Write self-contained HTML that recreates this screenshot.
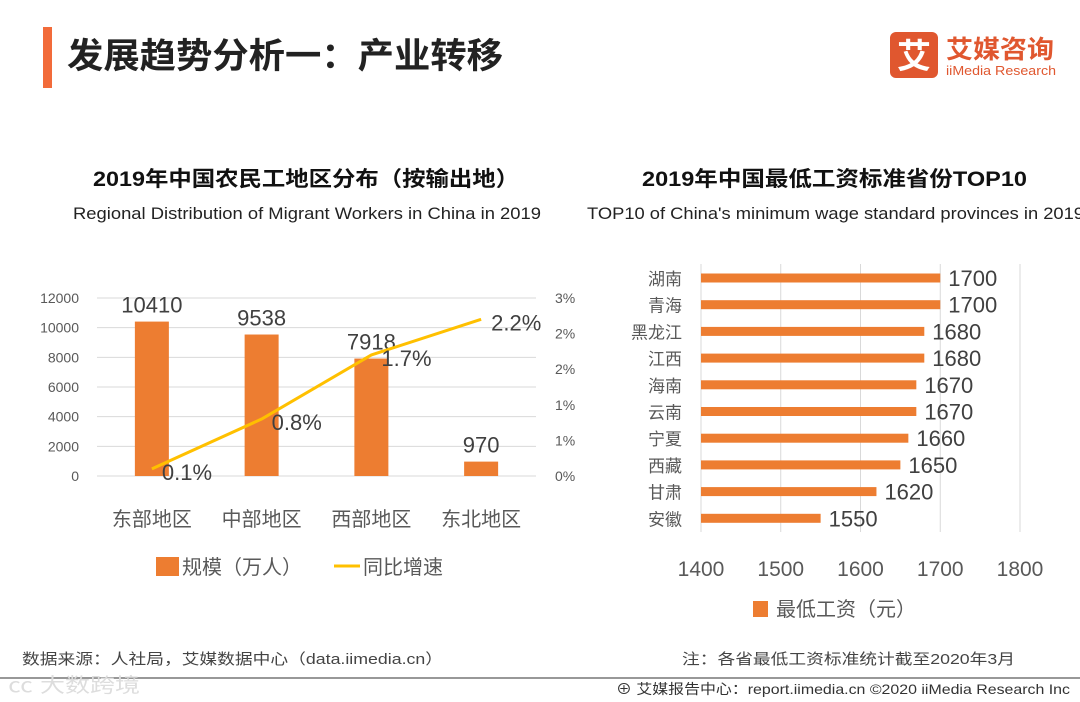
<!DOCTYPE html>
<html><head><meta charset="utf-8"><style>
html,body{margin:0;padding:0;background:#fff;}
svg{display:block;font-family:"Liberation Sans","Noto Sans CJK SC",sans-serif;}
</style></head><body>
<svg id="s" width="1080" height="702" viewBox="0 0 1080 702" xmlns="http://www.w3.org/2000/svg">
<rect x="43" y="27" width="9" height="61" fill="#f26b3a"/>
<text x="67" y="68" font-size="35" font-weight="bold" fill="#222" textLength="436" lengthAdjust="spacingAndGlyphs">发展趋势分析一：产业转移</text>
<g>
<rect x="890" y="32" width="48" height="46" rx="6" fill="#e0572f"/>
<text x="914" y="68" font-size="34" font-weight="bold" fill="#fff" text-anchor="middle">艾</text>
<text x="946" y="58" font-size="25" font-weight="bold" fill="#e0572f" textLength="108" lengthAdjust="spacingAndGlyphs">艾媒咨询</text>
<text x="946" y="75" font-size="13" fill="#e0572f" textLength="110" lengthAdjust="spacingAndGlyphs">iiMedia Research</text>
</g>
<text x="93" y="186" font-size="21" font-weight="bold" fill="#111" textLength="426" lengthAdjust="spacingAndGlyphs">2019年中国农民工地区分布（按输出地）</text>
<text x="73" y="219" font-size="17" fill="#222" textLength="468" lengthAdjust="spacingAndGlyphs">Regional Distribution of Migrant Workers in China in 2019</text>
<text x="642" y="186" font-size="21" font-weight="bold" fill="#111" textLength="385" lengthAdjust="spacingAndGlyphs">2019年中国最低工资标准省份TOP10</text>
<text x="587" y="219" font-size="17" fill="#222" textLength="497" lengthAdjust="spacingAndGlyphs">TOP10 of China's minimum wage standard provinces in 2019</text>
<g id="left"></g>
<g id="right"></g>
<text x="22" y="664" font-size="15" fill="#444" textLength="421" lengthAdjust="spacingAndGlyphs">数据来源：人社局，艾媒数据中心（data.iimedia.cn）</text>
<text x="682" y="664" font-size="15" fill="#444" textLength="333" lengthAdjust="spacingAndGlyphs">注：各省最低工资标准统计截至2020年3月</text>
<line x1="0" y1="678" x2="1080" y2="678" stroke="#777" stroke-width="1.5"/>
<text x="8" y="692" font-size="20" fill="#ddd" textLength="132" lengthAdjust="spacingAndGlyphs">㏄ 大数跨境</text>
<text x="616" y="694" font-size="14" fill="#333" textLength="454" lengthAdjust="spacingAndGlyphs">⊕ 艾媒报告中心：report.iimedia.cn  ©2020  iiMedia Research  Inc</text>
</svg>
<script>
const regions = ["东部地区","中部地区","西部地区","东北地区"];
const workers = [10410,9538,7918,970];
const growth = [0.1,0.8,1.7,2.2];
const leftTicks = [0,2000,4000,6000,8000,10000,12000];
const rightTicks = [0,0.5,1,1.5,2,2.5];
const rightTickLabels = ["0%","1%","1%","2%","2%","3%"];
const provinces = ["湖南","青海","黑龙江","江西","海南","云南","宁夏","西藏","甘肃","安徽"];
const wages = [1700,1700,1680,1680,1670,1670,1660,1650,1620,1550];
const wageTicks = [1400,1500,1600,1700,1800];

const NS="http://www.w3.org/2000/svg";
function mk(parent,tag,attrs,text){const e=document.createElementNS(NS,tag);for(const k in attrs)e.setAttribute(k,attrs[k]);if(text!==undefined)e.textContent=text;parent.appendChild(e);return e;}
const ORANGE="#ed7d31", YEL="#ffc000";

// left chart
const L=document.getElementById('left');
const x0=97,x1=536,yB=476,yT=298;
const yL=v=>yB-(v/12000)*(yB-yT);
const yR=v=>yB-(v/2.5)*(yB-yT);
const bw=(x1-x0)/regions.length;
const cx=i=>x0+bw*(i+0.5);
leftTicks.forEach(t=>{
 const g=mk(L,'line',{x1:x0,x2:x1,y1:yL(t),y2:yL(t),stroke:'#d9d9d9','stroke-width':1});
 
 
 const tx=mk(L,'text',{x:79,y:yL(t)+5,'font-size':14,fill:'#595959','text-anchor':'end'},t);
 
 
});
rightTicks.forEach((t,i)=>{
 const tx=mk(L,'text',{x:555,y:yR(t)+5,'font-size':14,fill:'#595959'},rightTickLabels[i]);
 
 
});
regions.forEach((r,i)=>{
 const b=mk(L,'rect',{x:cx(i)-17,y:yL(workers[i]),width:34,height:yB-yL(workers[i]),fill:ORANGE});
 
 
 const v=mk(L,'text',{x:cx(i),y:yL(workers[i])-9,'font-size':22,fill:'#404040','text-anchor':'middle'},workers[i]);
 
 
 const c=mk(L,'text',{x:cx(i),y:526,'font-size':20,fill:'#595959','text-anchor':'middle'},r);
 
 
});
const pts=growth.map((g,i)=>[cx(i),yR(g)]);
const ln=mk(L,'polyline',{points:pts.map(p=>p.join(',')).join(' '),fill:'none',stroke:YEL,'stroke-width':3,'stroke-linejoin':'round'});


growth.forEach((g,i)=>{
 const t=mk(L,'text',{x:cx(i)+10,y:yR(g)+11,'font-size':22,fill:'#404040'},g.toFixed(1)+'%');
 
 
});
const lg1=mk(L,'rect',{x:156,y:557,width:23,height:19,fill:ORANGE});


const lt1=mk(L,'text',{x:182,y:574,'font-size':20,fill:'#595959'},'规模（万人）');


const lg2=mk(L,'line',{x1:334,x2:360,y1:566,y2:566,stroke:YEL,'stroke-width':3});


const lt2=mk(L,'text',{x:363,y:574,'font-size':20,fill:'#595959'},'同比增速');



// right chart
const R=document.getElementById('right');
const rx0=701,rx1=1020;
const xW=v=>rx0+(v-1400)/400*(rx1-rx0);
const rowY=i=>278+i*26.7;
wageTicks.forEach(t=>{
 const g=mk(R,'line',{x1:xW(t),x2:xW(t),y1:264,y2:532,stroke:'#d9d9d9','stroke-width':1});
 
 
 const tx=mk(R,'text',{x:xW(t),y:576,'font-size':21,fill:'#595959','text-anchor':'middle'},t);
 
 
});
provinces.forEach((p,i)=>{
 const b=mk(R,'rect',{x:rx0,y:rowY(i)-4.5,width:xW(wages[i])-rx0,height:9,fill:ORANGE});
 
 
 const l=mk(R,'text',{x:682,y:rowY(i)+7,'font-size':17,fill:'#595959','text-anchor':'end'},p);
 
 
 const v=mk(R,'text',{x:xW(wages[i])+8,y:rowY(i)+8,'font-size':22,fill:'#404040'},wages[i]);
 
 
});
const lg3=mk(R,'rect',{x:753,y:601,width:15,height:16,fill:ORANGE});


const lt3=mk(R,'text',{x:776,y:616,'font-size':20,fill:'#595959'},'最低工资（元）');


</script>
</body></html>
